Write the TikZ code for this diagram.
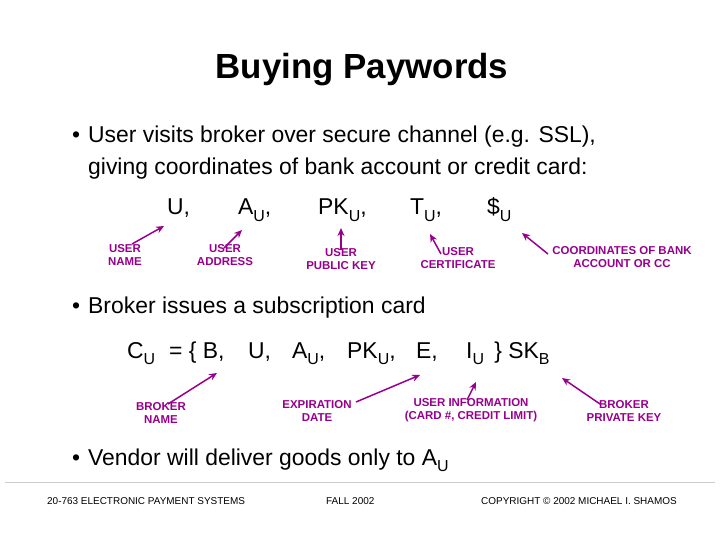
\documentclass[tikz,border=0pt]{standalone}
\usepackage{fontspec}
\setmainfont{Liberation Sans}
\usetikzlibrary{arrows.meta}
\definecolor{pur}{RGB}{150,0,140}
\newcommand\sbx[1]{\raisebox{-0.3em}{\fontsize{16}{16}\selectfont #1}}
\begin{document}
\begin{tikzpicture}[x=1bp,y=-1bp,
  lab/.style={text=pur,font=\bfseries\fontsize{11.5}{13.5}\selectfont,align=center,inner sep=0},
  txt/.style={font=\fontsize{23}{26}\selectfont,anchor=base west,inner sep=0},
  arr/.style={draw=pur,line width=1.5pt,-{Stealth[length=8pt,width=7pt]}},
  foot/.style={font=\fontsize{10}{11}\selectfont,anchor=base west,inner sep=0}]
\useasboundingbox (0,0) rectangle (720,540);
\node[font=\bfseries\fontsize{35}{40}\selectfont] (title) at (362,70) {Buying Paywords};
\node[txt] (b1) at (72,143) {•};
\node[txt] (t1) at (88,143) {User visits broker over secure channel (e.g. SSL),};
\node[txt] (t1b) at (88,175) {giving coordinates of bank account or credit card:};
\node[txt] (u1) at (167,215) {U,};
\node[txt] (a1) at (238,215) {A\sbx{U},};
\node[txt] (p1) at (318,215) {PK\sbx{U},};
\node[txt] (tt1) at (410,215) {T\sbx{U},};
\node[txt] (d1) at (487,215) {\$\sbx{U}};
\node[lab] (l1) at (125,255) {USER\\NAME};
\node[lab] (l2) at (225,255) {USER\\ADDRESS};
\node[lab] (l3) at (341,259) {USER\\PUBLIC KEY};
\node[lab] (l4) at (458,258) {USER\\CERTIFICATE};
\node[lab] (l5) at (622,257) {COORDINATES OF BANK\\ACCOUNT OR CC};
\coordinate (e1) at (164,226); \coordinate (s1) at (132,244);
\coordinate (e2) at (242,230); \coordinate (s2) at (224,248);
\coordinate (e3) at (341,228); \coordinate (s3) at (341,250);
\coordinate (e4) at (430,234); \coordinate (s4) at (441,254);
\coordinate (e5) at (522,233); \coordinate (s5) at (548,254);
\foreach \i in {1,...,5} \draw[arr] (s\i) -- (e\i);
\node[txt] (b2) at (72,313) {•};
\node[txt] (t2) at (88,313) {Broker issues a subscription card};
\node[txt] (c2) at (127,358) {C\sbx{U}};
\node[txt] (eq2) at (169,358) {= \{ B,};
\node[txt] (u2) at (248,358) {U,};
\node[txt] (a2) at (292,358) {A\sbx{U},};
\node[txt] (p2) at (347,358) {PK\sbx{U},};
\node[txt] (e2t) at (416,358) {E,};
\node[txt] (i2) at (466,358) {I\sbx{U}\, \} SK\sbx{B}};
\node[lab] (m1) at (161,413) {BROKER\\NAME};
\node[lab] (m2) at (317,411) {EXPIRATION\\DATE};
\node[lab] (m3) at (471,410) {USER INFORMATION\\(CARD \#, CREDIT LIMIT)};
\node[lab] (m4) at (624,411) {BROKER\\PRIVATE KEY};
\coordinate (g1) at (217,373); \coordinate (h1) at (168,404);
\coordinate (g2) at (420,375); \coordinate (h2) at (356,402);
\coordinate (g3) at (476,382); \coordinate (h3) at (467,400);
\coordinate (g4) at (562,378); \coordinate (h4) at (600,404);
\foreach \i in {1,...,4} \draw[arr] (h\i) -- (g\i);
\node[txt] (b3) at (72,465) {•};
\node[txt] (t3) at (88,465) {Vendor will deliver goods only to A\sbx{U}};
\draw[gray!40,line width=0.6pt] (5,482) -- (715,482);
\node[foot] (ft1) at (47,504) {20-763 ELECTRONIC PAYMENT SYSTEMS};
\node[foot] (ft2) at (326,504) {FALL 2002};
\node[foot] (ft3) at (481,504) {COPYRIGHT © 2002 MICHAEL I. SHAMOS};
\end{tikzpicture}
\end{document}
